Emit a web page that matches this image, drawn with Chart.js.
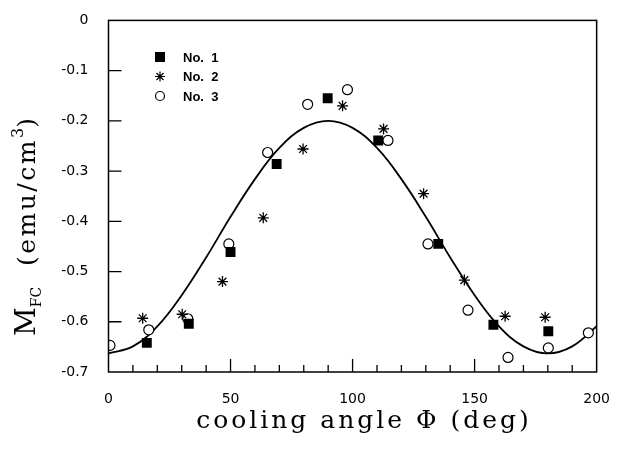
<!DOCTYPE html>
<html>
<head>
<meta charset="utf-8">
<script src="https://cdn.jsdelivr.net/npm/chart.js@4/dist/chart.umd.min.js"></script>
<style>
  html, body { margin: 0; padding: 0; background: #fff; }
  #wrap { width: 621px; height: 449px; }
</style>
</head>
<body>
<div id="wrap"><canvas id="fcChart" width="621" height="449"></canvas></div>
<script>
const sample1X = [15.7, 32.9, 50.0, 68.9, 89.8, 110.5, 135.1, 157.7, 180.2];
const sample1Y = [-0.642, -0.604, -0.461, -0.286, -0.155, -0.239, -0.445, -0.606, -0.619];

const sample2X = [14.0, 30.2, 46.7, 63.4, 79.7, 95.9, 112.7, 129.1, 145.8, 162.5, 178.9];
const sample2Y = [-0.593, -0.585, -0.520, -0.393, -0.256, -0.170, -0.216, -0.345, -0.517, -0.589, -0.591];

const sample3X = [0.6, 16.5, 32.5, 49.3, 65.2, 81.6, 97.9, 114.5, 130.9, 147.3, 163.7, 180.2, 196.6];
const sample3Y = [-0.647, -0.616, -0.594, -0.445, -0.263, -0.167, -0.138, -0.239, -0.445, -0.577, -0.671, -0.652, -0.622];

// the solid fit curve, read every 10 deg
const curveX = [0, 10, 20, 30, 40, 50, 60, 70, 80, 90, 100, 110, 120, 130, 140, 150, 160, 170, 180, 190, 200];
const curveY = [-0.663, -0.649, -0.609, -0.547, -0.472, -0.391, -0.316, -0.254, -0.214, -0.200, -0.214,
                -0.254, -0.316, -0.391, -0.472, -0.547, -0.609, -0.649, -0.663, -0.649, -0.609];

const legendLabels = ['No.  1', 'No.  2', 'No.  3'];
const xTickStep = 50;
const yTickStep = 0.1;

const toPoints = (xs, ys) => xs.map((x, i) => ({ x: x, y: ys[i] }));

// frame, inward ticks, legend and axis titles
const decorPlugin = {
    id: 'decor',
    afterDraw(chart) {
        const ctx = chart.ctx;
        const area = chart.chartArea;
        const xs = chart.scales.x;
        const ys = chart.scales.y;
        const hasSpacing = 'letterSpacing' in ctx;
        ctx.save();
        ctx.strokeStyle = '#000';
        ctx.lineWidth = 1.5;
        ctx.strokeRect(area.left, area.top, area.right - area.left, area.bottom - area.top);

        // x ticks: major every 50, minor every 10; y ticks every 0.1
        ctx.lineWidth = 1.3;
        ctx.beginPath();
        for (let v = 10; v < 200; v += 10) {
            const px = xs.getPixelForValue(v);
            const len = v % 50 === 0 ? 13 : 7;
            ctx.moveTo(px, area.bottom);
            ctx.lineTo(px, area.bottom - len);
        }
        for (let k = 1; k <= 6; k++) {
            const py = ys.getPixelForValue(-k / 10);
            ctx.moveTo(area.left, py);
            ctx.lineTo(area.left + 13, py);
        }
        ctx.stroke();

        // legend
        const lx = 160, ly0 = 57, lgap = 19.5;
        ctx.font = 'bold 13px "Liberation Sans", Arial, sans-serif';
        ctx.textBaseline = 'middle';
        ctx.fillStyle = '#000';
        chart.data.datasets.slice(0, 3).forEach((ds, i) => {
            const y = ly0 + i * lgap;
            if (i === 0) {
                ctx.fillRect(lx - 5, y - 5, 10, 10);
            } else if (i === 1) {
                ctx.beginPath();
                ctx.lineWidth = 1.2;
                for (let a = 0; a < 4; a++) {
                    const ang = a * Math.PI / 4;
                    ctx.moveTo(lx - 5 * Math.cos(ang), y - 5 * Math.sin(ang));
                    ctx.lineTo(lx + 5 * Math.cos(ang), y + 5 * Math.sin(ang));
                }
                ctx.stroke();
            } else {
                ctx.beginPath();
                ctx.lineWidth = 1.2;
                ctx.arc(lx, y, 4.5, 0, Math.PI * 2);
                ctx.stroke();
            }
            ctx.fillText(ds.label, lx + 23, y + 1);
        });

        // x axis title
        ctx.font = '25px "DejaVu Serif", serif';
        ctx.textAlign = 'center';
        ctx.textBaseline = 'alphabetic';
        if (hasSpacing) ctx.letterSpacing = '3px';
        ctx.fillText('cooling angle \u03A6 (deg)', 364, 428);
        if (hasSpacing) ctx.letterSpacing = '0px';

        // y axis title, rotated, M with subscript FC and cm superscript 3
        ctx.translate(35, 0);
        ctx.rotate(-Math.PI / 2);
        ctx.textAlign = 'left';
        const parts = [
            { t: 'M', f: '28px "DejaVu Serif", serif', dy: 0, sp: 0 },
            { t: 'FC', f: '14px "DejaVu Serif", serif', dy: 6, sp: 0 },
            { t: '  (emu/cm', f: '25px "DejaVu Serif", serif', dy: 0, sp: 2.5 },
            { t: '3', f: '16px "DejaVu Serif", serif', dy: -12, sp: 0 },
            { t: ')', f: '25px "DejaVu Serif", serif', dy: 0, sp: 0 }
        ];
        let cx = -336;
        parts.forEach(p => {
            ctx.font = p.f;
            if (hasSpacing) ctx.letterSpacing = p.sp + 'px';
            ctx.fillText(p.t, cx, p.dy);
            cx += ctx.measureText(p.t).width;
        });
        ctx.restore();
    }
};

const ctx = document.getElementById('fcChart').getContext('2d');
const tickFont = { family: '"DejaVu Sans", sans-serif', size: 14 };

new Chart(ctx, {
    type: 'scatter',
    data: {
        datasets: [{
            label: legendLabels[0],
            data: toPoints(sample1X, sample1Y),
            pointStyle: 'rect',
            pointRadius: 7,
            backgroundColor: '#000',
            borderColor: '#000',
            borderWidth: 0
        }, {
            label: legendLabels[1],
            data: toPoints(sample2X, sample2Y),
            pointStyle: 'star',
            pointRadius: 5.5,
            backgroundColor: '#000',
            borderColor: '#000',
            borderWidth: 1.3
        }, {
            label: legendLabels[2],
            data: toPoints(sample3X, sample3Y),
            pointStyle: 'circle',
            pointRadius: 5,
            backgroundColor: '#fff',
            borderColor: '#000',
            borderWidth: 1.2
        }, {
            label: 'fit',
            type: 'line',
            data: toPoints(curveX, curveY),
            showLine: true,
            borderColor: '#000',
            borderWidth: 1.8,
            pointRadius: 0,
            tension: 0.4,
            fill: false
        }]
    },
    options: {
        responsive: false,
        animation: false,
        layout: { padding: { left: 0, right: 17, top: 16, bottom: 0 } },
        plugins: { legend: { display: false }, tooltip: { enabled: false } },
        scales: {
            x: {
                type: 'linear',
                min: 0,
                max: 200,
                grid: { display: false },
                border: { display: false },
                ticks: { stepSize: xTickStep, color: '#000', font: tickFont, padding: 11, maxRotation: 0 },
                afterFit: scale => { scale.height = 77; }
            },
            y: {
                min: -0.7,
                max: 0,
                grid: { display: false },
                border: { display: false },
                ticks: {
                    stepSize: yTickStep,
                    color: '#000',
                    font: tickFont,
                    padding: 12,
                    callback: v => Math.abs(v) < 1e-9 ? '0' : v.toFixed(1)
                },
                afterFit: scale => { scale.width = 108.5; }
            }
        }
    },
    plugins: [decorPlugin]
});
</script>
</body>
</html>
